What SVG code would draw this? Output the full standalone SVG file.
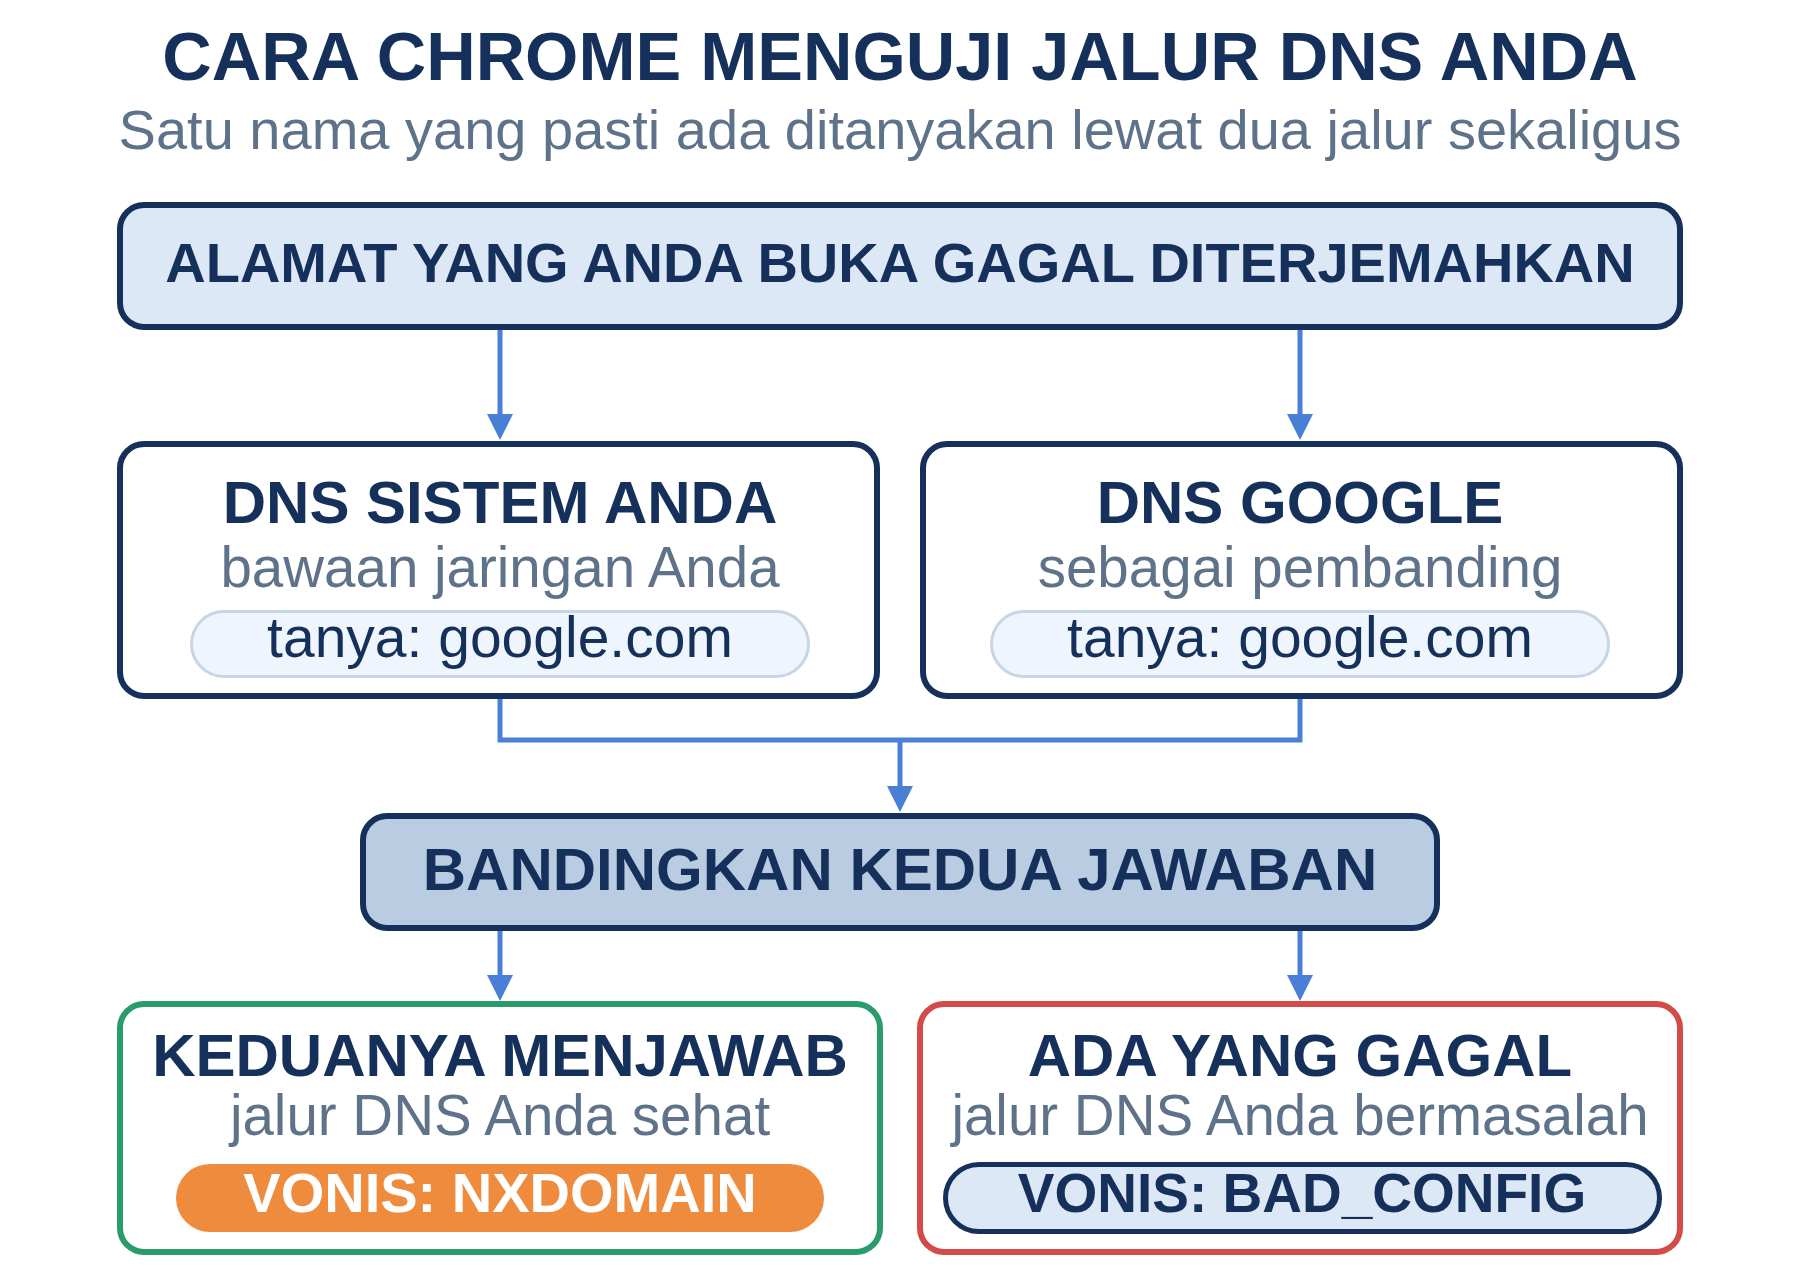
<svg xmlns="http://www.w3.org/2000/svg" width="1800" height="1280" viewBox="0 0 1800 1280">
  <style>
    text { font-family: "Liberation Sans", Arial, Helvetica, sans-serif; text-anchor: middle; }
    .title { font-size: 68.5px; font-weight: 700; fill: #15305a; }
    .subtitle { font-size: 56px; fill: #5e7289; }
    .head { font-size: 60px; font-weight: 700; fill: #15305a; }
    .bighead { font-size: 56px; font-weight: 700; fill: #15305a; }
    .sub { font-size: 56.5px; fill: #5e7289; }
    .q { font-size: 57px; fill: #15305a; }
    .verdict { font-size: 56px; font-weight: 700; }
    .box { stroke: #15305a; stroke-width: 6; }
    .start { fill: #dce8f6; }
    .plain { fill: #ffffff; }
    .compare { fill: #b9cce2; }
    .ok { fill: #ffffff; stroke: #2a9c6c; stroke-width: 6; }
    .bad { fill: #ffffff; stroke: #d24b48; stroke-width: 6; }
    .qpill { fill: #eef5fd; stroke: #c7d5e6; stroke-width: 3; }
    .orange { fill: #ee8b3d; }
    .navypill { fill: #dce8f6; stroke: #15305a; stroke-width: 5; }
    .conn { fill: none; stroke: #4a7fd6; stroke-width: 5; }
  </style>
  <defs>
    <marker id="arrow" viewBox="0 0 26 26" refX="0" refY="13" markerWidth="26" markerHeight="26" markerUnits="userSpaceOnUse" orient="auto">
      <path d="M0,0 L26,13 L0,26 Z" fill="#4a7fd6"/>
    </marker>
  </defs>
  <rect width="1800" height="1280" fill="#ffffff"/>

  <g id="header">
    <text class="title" x="900" y="80">CARA CHROME MENGUJI JALUR DNS ANDA</text>
    <text class="subtitle" x="900" y="149">Satu nama yang pasti ada ditanyakan lewat dua jalur sekaligus</text>
  </g>

  <g id="connectors">
    <path class="conn" d="M500,330 L500,414" marker-end="url(#arrow)"/>
    <path class="conn" d="M1300,330 L1300,414" marker-end="url(#arrow)"/>
    <path class="conn" d="M500,698 L500,740 L1300,740 L1300,698"/>
    <path class="conn" d="M900,740 L900,786" marker-end="url(#arrow)"/>
    <path class="conn" d="M500,931 L500,975" marker-end="url(#arrow)"/>
    <path class="conn" d="M1300,931 L1300,975" marker-end="url(#arrow)"/>
  </g>

  <g id="node-start">
    <rect class="box start" x="120" y="205" width="1560" height="122" rx="24"/>
    <text class="bighead" x="900" y="282">ALAMAT YANG ANDA BUKA GAGAL DITERJEMAHKAN</text>
  </g>

  <g id="node-system-dns">
    <rect class="box plain" x="120" y="444" width="757" height="252" rx="24"/>
    <text class="head" x="500" y="523">DNS SISTEM ANDA</text>
    <text class="sub" x="500" y="587">bawaan jaringan Anda</text>
    <rect class="qpill" x="191.5" y="611.5" width="617" height="65" rx="32.5"/>
    <text class="q" x="500" y="657">tanya: google.com</text>
  </g>

  <g id="node-google-dns">
    <rect class="box plain" x="923" y="444" width="757" height="252" rx="24"/>
    <text class="head" x="1300" y="523">DNS GOOGLE</text>
    <text class="sub" x="1300" y="587">sebagai pembanding</text>
    <rect class="qpill" x="991.5" y="611.5" width="617" height="65" rx="32.5"/>
    <text class="q" x="1300" y="657">tanya: google.com</text>
  </g>

  <g id="node-compare">
    <rect class="box compare" x="363" y="816" width="1074" height="112" rx="24"/>
    <text class="head" x="900" y="890">BANDINGKAN KEDUA JAWABAN</text>
  </g>

  <g id="node-healthy">
    <rect class="ok" x="120" y="1004" width="760" height="248" rx="24"/>
    <text class="head" x="500" y="1076">KEDUANYA MENJAWAB</text>
    <text class="sub" x="500" y="1135">jalur DNS Anda sehat</text>
    <rect class="orange" x="176" y="1164" width="648" height="68" rx="34"/>
    <text class="verdict" x="500" y="1212" fill="#ffffff">VONIS: NXDOMAIN</text>
  </g>

  <g id="node-failed">
    <rect class="bad" x="920" y="1004" width="760" height="248" rx="24"/>
    <text class="head" x="1300" y="1076">ADA YANG GAGAL</text>
    <text class="sub" x="1300" y="1135">jalur DNS Anda bermasalah</text>
    <rect class="navypill" x="945.5" y="1164.5" width="714" height="67" rx="33.5"/>
    <text class="verdict" x="1302" y="1212" fill="#15305a" style="font-size:55px">VONIS: BAD_CONFIG</text>
  </g>
</svg>
